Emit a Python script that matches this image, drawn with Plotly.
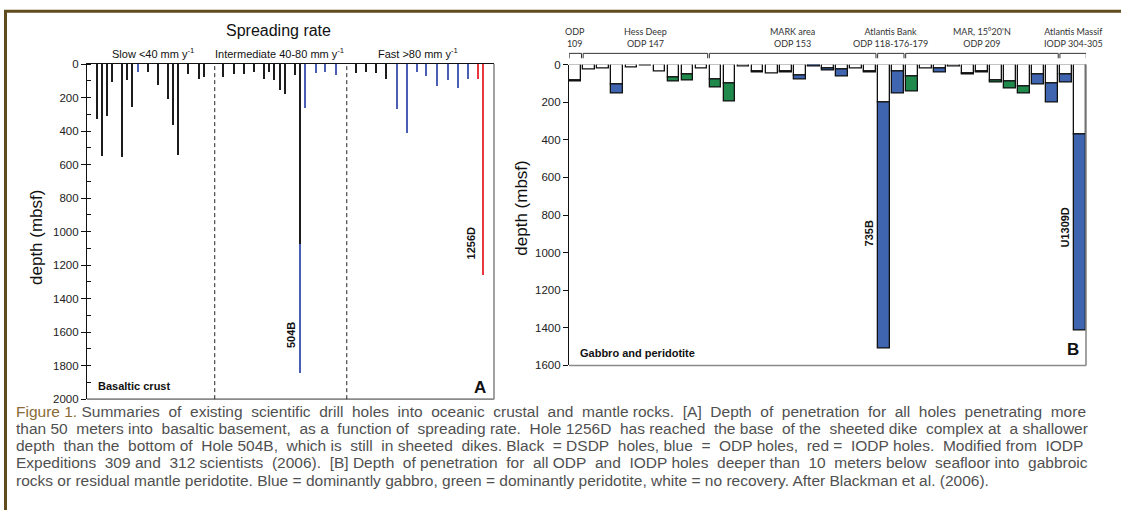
import plotly.graph_objects as go

W, H = 1121, 516

# ---------------- Panel A data: basaltic crust holes ----------------
rate_a = [4.3, 5.8, 7.4, 8.9, 12.1, 13.5, 15.0, 16.7, 19.7, 22.8, 25.8, 27.3, 29.0, 32.0, 35.2, 36.7,
          42.7, 45.8, 49.0, 52.1, 55.0, 56.5, 58.1, 59.7, 61.2, 64.3, 67.4, 70.6, 73.5, 76.8,
          82.8, 85.8, 88.8, 91.9, 95.2, 98.2, 101.2, 104.2, 107.3, 110.6, 113.7, 116.7, 119.8, 121.3]
depth_a = [328, 551, 309, 107, 555, 95, 254, 49, 49, 128, 208, 365, 542, 60, 89, 78,
           78, 60, 60, 49, 89, 49, 95, 155, 177, 66, 264, 56, 45, 66,
           56, 50, 52, 87, 270, 412, 49, 72, 134, 95, 146, 87, 89, 1257]
prog_a = ["DSDP"] * 7 + ["ODP"] + ["DSDP"] * 8 + \
         ["DSDP"] * 10 + ["ODP"] * 4 + \
         ["DSDP"] * 4 + ["ODP"] * 8 + ["IODP"] * 2
hole_504B_rate = 65.9
hole_504B_dsdp_depth = 1075
hole_504B_total = 1845
hole_1256D_rate = 121.3
hole_1256D_depth = 1257
rate_bounds = [40, 80]
rate_labels = ["Slow <40 mm y<sup>-1</sup>", "Intermediate 40-80 mm y<sup>-1</sup>", "Fast >80 mm y<sup>-1</sup>"]

# ---------------- Panel B data: gabbro & peridotite holes ----------------
white_b = [85, 26, 22, 104, 14, 7, 35, 69, 52, 22,
           78, 100, 10, 35, 48, 38, 59, 0, 22, 28, 22, 35,
           204, 35,
           64, 21, 22, 12, 48, 35, 83, 90, 118, 55, 100,
           52, 370]
total_b = [90, 26, 22, 152, 14, 7, 35, 90, 85, 22,
           121, 199, 10, 42, 48, 45, 80, 10, 31, 66, 22, 43,
           1508, 156,
           144, 21, 42, 12, 54, 42, 97, 125, 152, 104, 204,
           97, 1415]
lith_b = ["P", "", "", "G", "", "", "", "P", "P", "",
          "P", "P", "", "G", "", "G", "G", "G", "G", "G", "", "G",
          "G", "G",
          "P", "", "G", "", "P", "P", "P", "P", "P", "G", "G",
          "G", "G"]
groups = [("ODP<br>109", 0, 0), ("Hess Deep<br>ODP 147", 1, 9), ("MARK area<br>ODP 153", 10, 21),
          ("Atlantis Bank<br>ODP 118-176-179", 22, 23), ("MAR, 15°20'N<br>ODP 209", 24, 34),
          ("Atlantis Massif<br>IODP 304-305", 35, 36)]
named_b = {"735B": 22, "U1309D": 36}

caption = [
    "Summaries of existing scientific drill holes into oceanic crustal and mantle rocks. [A] Depth of penetration for all holes penetrating more",
    "than 50 meters into basaltic basement, as a function of spreading rate. Hole 1256D has reached the base of the sheeted dike complex at a shallower",
    "depth than the bottom of Hole 504B, which is still in sheeted dikes. Black = DSDP holes, blue = ODP holes, red = IODP holes. Modified from IODP",
    "Expeditions 309 and 312 scientists (2006). [B] Depth of penetration for all ODP and IODP holes deeper than 10 meters below seafloor into gabbroic",
    "rocks or residual mantle peridotite. Blue = dominantly gabbro, green = dominantly peridotite, white = no recovery. After Blackman et al. (2006).",
]
caption_prefix = "Figure 1."

# ---------------- colours ----------------
C_DSDP, C_ODP, C_IODP = "#1c1c1c", "#4a5fb4", "#e8383d"
C_GAB, C_PER = "#3f65b0", "#1f8a4c"
GRAY = "#8a8a8a"
FONT = "Liberation Sans"


def px(x):
    return x / W


def py(y):
    return 1 - y / H


fig = go.Figure()

# ---- Panel A bars
col_map = {"DSDP": C_DSDP, "ODP": C_ODP, "IODP": C_IODP}
for prog in ["DSDP", "ODP", "IODP"]:
    xs = [r for r, p in zip(rate_a, prog_a) if p == prog]
    ys = [d for d, p in zip(depth_a, prog_a) if p == prog]
    fig.add_trace(go.Bar(x=xs, y=ys, width=0.42, marker=dict(color=col_map[prog], line=dict(width=0)),
                         xaxis="x", yaxis="y", showlegend=False))
fig.add_trace(go.Bar(x=[hole_504B_rate], y=[hole_504B_dsdp_depth], width=0.42,
                     marker=dict(color=C_DSDP, line=dict(width=0)), xaxis="x", yaxis="y", showlegend=False))
fig.add_trace(go.Bar(x=[hole_504B_rate], y=[hole_504B_total - hole_504B_dsdp_depth], base=[hole_504B_dsdp_depth],
                     width=0.42, marker=dict(color=C_ODP, line=dict(width=0)), xaxis="x", yaxis="y", showlegend=False))

# ---- Panel B bars
idx = list(range(len(total_b)))
fig.add_trace(go.Bar(x=idx, y=white_b, width=0.84, marker=dict(color="white", line=dict(color="#111", width=1.3)),
                     xaxis="x2", yaxis="y2", showlegend=False))
for code, col in [("G", C_GAB), ("P", C_PER)]:
    xs = [i for i in idx if lith_b[i] == code]
    fig.add_trace(go.Bar(x=xs, y=[total_b[i] - white_b[i] for i in xs], base=[white_b[i] for i in xs],
                         width=0.84, marker=dict(color=col, line=dict(color="#111", width=1.3)),
                         xaxis="x2", yaxis="y2", showlegend=False))

tickfont = dict(family=FONT, size=11.5, color="#222")
fig.update_layout(
    width=W, height=H, margin=dict(l=0, r=0, t=0, b=0),
    paper_bgcolor="white", plot_bgcolor="white", barmode="overlay", bargap=0,
    xaxis=dict(domain=[px(87), px(494)], range=[1.3, 124.6], side="top", showline=True, linecolor="#111",
               linewidth=1.2, showticklabels=False, ticks="", showgrid=False, zeroline=False, anchor="y"),
    yaxis=dict(domain=[py(402.5), py(59.5)], range=[2000, 0], showline=True, linecolor="#111", linewidth=1.2,
               ticks="outside", ticklen=5, tickcolor="#111", dtick=200, tickfont=tickfont, showgrid=False,
               zeroline=False, anchor="x",
               minor=dict(dtick=100, ticks="inside", ticklen=4, tickcolor="#111", showgrid=False)),
    xaxis2=dict(domain=[px(569), px(1086)], range=[-0.45, 36.42], showline=False, showticklabels=False,
                ticks="", showgrid=False, zeroline=False, anchor="y2"),
    yaxis2=dict(domain=[py(368), py(60)], range=[1600, 0], showline=True, linecolor="#111", linewidth=1.2,
                ticks="outside", ticklen=5, tickcolor="#111", dtick=200, tickfont=tickfont, showgrid=False,
                zeroline=False, anchor="x2"),
)

shapes = []
# outer brown frame (top and left)
shapes.append(dict(type="line", xref="paper", yref="paper", x0=px(4), x1=1, y0=py(5.5), y1=py(5.5),
                   line=dict(color="#5f4b1e", width=3)))
shapes.append(dict(type="line", xref="paper", yref="paper", x0=px(5.5), x1=px(5.5), y0=0, y1=py(4),
                   line=dict(color="#5f4b1e", width=3)))
# panel frames (bottom & right gray)
for xr, yr in [("x domain", "y domain"), ("x2 domain", "y2 domain")]:
    shapes.append(dict(type="line", xref=xr, yref=yr, x0=0, x1=1, y0=0, y1=0, line=dict(color=GRAY, width=1.6)))
    shapes.append(dict(type="line", xref=xr, yref=yr, x0=1, x1=1, y0=0, y1=1, line=dict(color=GRAY, width=1.6)))
# dashed spreading-rate boundaries
for b in rate_bounds:
    shapes.append(dict(type="line", xref="x", yref="y domain", x0=b, x1=b, y0=0, y1=1,
                       line=dict(color="#222", width=1, dash="4px,3px")))
# group brackets in panel B
for name, i0, i1 in groups:
    a, b = i0 - 0.44, i1 + 0.44
    yb, yt = py(53.5), py(48.5)
    shapes.append(dict(type="line", xref="x2", yref="paper", x0=a, x1=b, y0=yt, y1=yt, line=dict(color="#333", width=1)))
    shapes.append(dict(type="line", xref="x2", yref="paper", x0=a, x1=a, y0=yb, y1=yt, line=dict(color="#333", width=1)))
    shapes.append(dict(type="line", xref="x2", yref="paper", x0=b, x1=b, y0=yb, y1=yt, line=dict(color="#333", width=1)))
fig.update_layout(shapes=shapes)

ann = []


def txt(x, y, s, size, bold=False, color="#111", xanchor="center", angle=0, family=FONT, yanchor="middle"):
    ann.append(dict(x=px(x), y=py(y), xref="paper", yref="paper", text=f"<b>{s}</b>" if bold else s,
                    showarrow=False, xanchor=xanchor, yanchor=yanchor, textangle=angle,
                    font=dict(family=family, size=size, color=color)))


txt(278, 25.5, "Spreading rate", 16)
txt(153, 48, rate_labels[0], 11)
txt(279, 48, rate_labels[1], 11)
txt(418, 48, rate_labels[2], 11)
txt(37, 237.5, "depth (mbsf)", 17, angle=-90)
txt(522, 207.5, "depth (mbsf)", 17, angle=-90)
txt(96, 389, "Basaltic crust", 11, bold=True, xanchor="left")
txt(480, 391, "A", 17, bold=True)
txt(578, 355, "Gabbro and peridotite", 11, bold=True, xanchor="left")
txt(1073, 352, "B", 17, bold=True)

# hole labels anchored to their bars
ann.append(dict(x=hole_504B_rate, y=1616, xref="x", yref="y", text="<b>504B</b>", showarrow=False, textangle=-90,
                xshift=-9, font=dict(family=FONT, size=11, color="#111")))
ann.append(dict(x=hole_1256D_rate, y=1070, xref="x", yref="y", text="<b>1256D</b>", showarrow=False, textangle=-90,
                xshift=-12, font=dict(family=FONT, size=11, color="#111")))
ann.append(dict(x=named_b["735B"], y=899, xref="x2", yref="y2", text="<b>735B</b>", showarrow=False, textangle=-90,
                xshift=-15, font=dict(family=FONT, size=11, color="#111")))
ann.append(dict(x=named_b["U1309D"], y=866, xref="x2", yref="y2", text="<b>U1309D</b>", showarrow=False,
                textangle=-90, xshift=-15, font=dict(family=FONT, size=11, color="#111")))

for name, i0, i1 in groups:
    ann.append(dict(x=(i0 + i1) / 2, y=py(46), xref="x2", yref="paper", text=name, showarrow=False,
                    yanchor="bottom", font=dict(family="Lato", size=9, color="#333")))


def justify(line, extra):
    """Widen word gaps with non-breaking spaces to approximate justified text."""
    words = line.split(" ")
    gaps = len(words) - 1
    out = words[0]
    added = 0
    for g in range(gaps):
        target = round((g + 1) * extra / gaps)
        n = target - added
        added = target
        out += "\u00a0" * n + " " + words[g + 1]
    return out


extra_spaces = [19, 12, 15, 14, 0]   # layout only: pad lines 1-4 to full width
for k, line in enumerate(caption):
    s = justify(line, extra_spaces[k])
    if k == 0:
        s = f"<span style='color:#8b6b35'>{caption_prefix}</span> " + s
    txt(14, 415 + 17.6 * k, s, 15.5, color="#505050", xanchor="left")

fig.update_layout(annotations=ann)
fig.write_html("out.html")
